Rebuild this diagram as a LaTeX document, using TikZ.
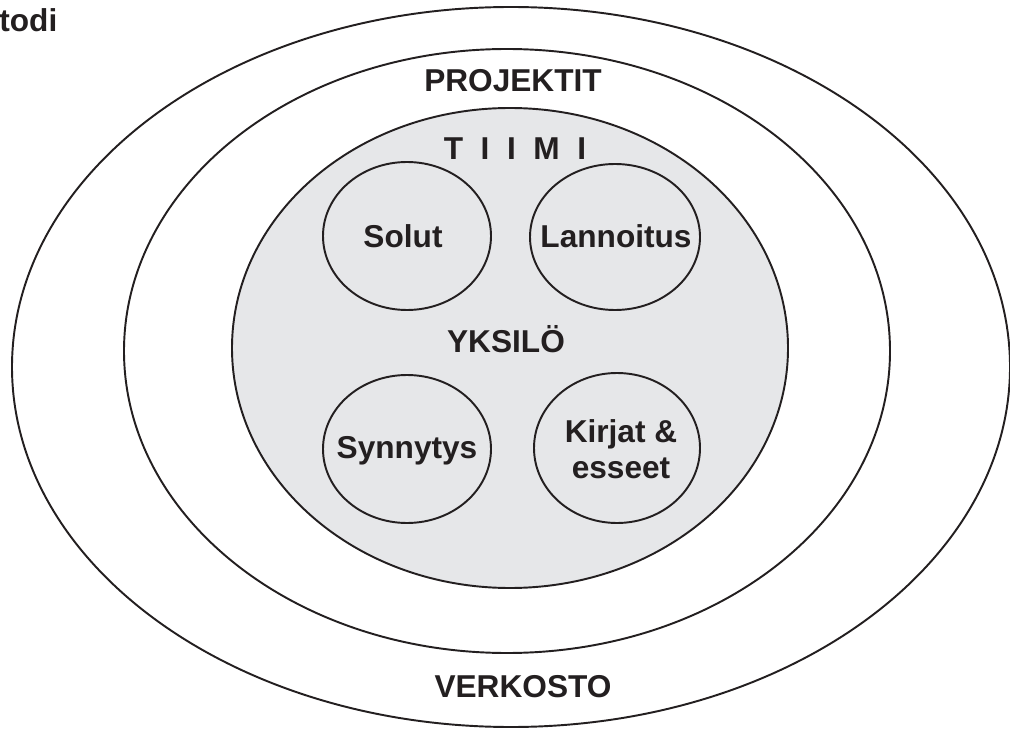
\documentclass[tikz,border=0pt]{standalone}
\usepackage{fontspec}
\setmainfont{Liberation Sans}
\definecolor{ink}{RGB}{35,31,32}
\definecolor{yksgray}{RGB}{230,231,233}
\tikzset{
  ring/.style={draw=ink, line width=1.1pt},
  lbl/.style={anchor=base, inner sep=0pt, text=ink, font=\bfseries\fontsize{18}{20.5}\selectfont}
}
\begin{document}
\begin{tikzpicture}[x=0.02cm,y=0.02cm]
\useasboundingbox (0,0) rectangle (1010,-729);
\clip (0,0) rectangle (1010,-729);
\draw[ring] (511,-367) ellipse [x radius=499, y radius=360];
\draw[ring] (507,-351) ellipse [x radius=383, y radius=302];
\draw[ring, fill=yksgray] (510,-348) ellipse [x radius=278, y radius=240];
\draw[ring] (407,-236) ellipse [x radius=84, y radius=74];
\draw[ring] (615,-237) ellipse [x radius=85, y radius=73];
\draw[ring] (407,-449) ellipse [x radius=84, y radius=74];
\draw[ring] (617,-448) ellipse [x radius=83, y radius=75];
\node[lbl, anchor=base west] (M) at (-1,-32) {todi};
\node[lbl] (P) at (513,-92) {PROJEKTIT};
\node[lbl] (T) at (515,-160) {T\ \ I\ \ I\ \ M\ \ I};
\node[lbl] (S1) at (403,-248) {Solut};
\node[lbl] (S2) at (616,-248) {Lannoitus};
\node[lbl] (Y) at (506,-352) {YKSILÖ};
\node[lbl] (S3) at (407,-458) {Synnytys};
\node[lbl, anchor=center, align=center] (S4) at (621,-449) {Kirjat \&\\esseet};
\node[lbl] (V) at (523,-697) {VERKOSTO};
\end{tikzpicture}
\end{document}
